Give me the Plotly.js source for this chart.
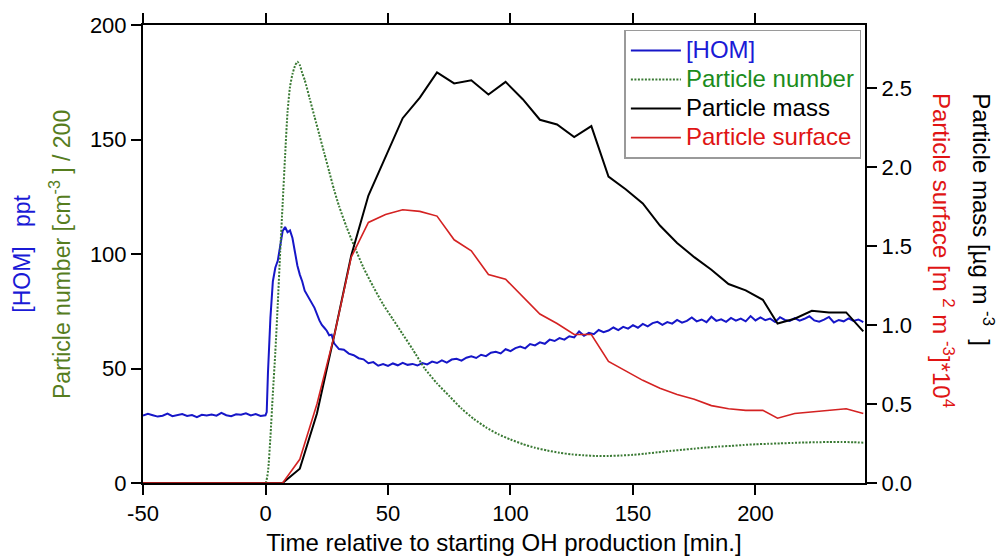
<!DOCTYPE html>
<html>
<head>
<meta charset="utf-8">
<script src="https://cdn.plot.ly/plotly-3.0.1.min.js"></script>
<style>html,body{margin:0;padding:0;background:#fff;}#chart{width:1005px;height:558px;}</style>
</head>
<body>
<div id="chart"></div>
<script>
// ---- data ----
const homTime = [-50,-48,-46,-44,-42,-40,-38,-36,-34,-32,-30,-28,-26,-24,-22,-20,-18,-16,-14,-12,-10,-8,-6,-4,-2,
  0,0.5,1,2,3,4,5,6,7,8,9,10,11,12,13,14,15,16,17,18,20,22,23,24,25,26,27,28,30,32,34,36,38,40,42,44,46,48,
  50,52,54,56,58,60,62,64,66,68,70,72,74,76,78,80,82,84,86,88,90,92,94,96,98,
  100,102,104,106,108,110,112,114,116,118,120,122,124,126,128,130,132,134,136,138,140,142,144,146,148,
  150,152,154,156,158,160,162,164,166,168,170,172,174,176,178,180,182,184,186,188,190,192,194,196,198,
  200,202,204,206,208,210,212,214,216,218,220,222,224,226,228,230,232,234,236,238,240,242,244];
const homPpt = [29.5,30.2,29.6,29.0,29.4,30.3,29.2,29.6,30.1,29.3,29.7,28.8,29.8,29.5,29.9,29.4,30.6,29.6,29.2,30.0,29.8,30.4,29.5,30.1,29.3,
  29.6,31,48,72,88,94,97,104,110,111.8,109.5,110.3,107,101,95,91,88,84,82,80,76.5,71,69,67.8,66.5,64.5,64.8,61,58.5,58.2,56.5,55.8,54.5,54,52.3,52.8,51.2,51.9,
  51.1,52.2,51.4,52.5,51.6,52.0,51.3,52.4,51.8,53.0,52.4,53.6,52.6,53.9,54.2,53.4,54.7,55.3,54.6,56.0,55.4,56.9,57.3,56.6,58.4,
  57.6,58.9,59.6,58.8,60.7,60.1,61.4,60.8,62.6,62.0,63.3,62.6,64.1,63.6,66.2,64.3,65.6,65.0,66.8,65.9,66.6,67.9,66.8,68.2,67.4,
  68.9,67.8,69.5,68.4,69.8,70.4,69.1,70.3,69.6,71.2,70.0,70.8,72.3,70.6,71.4,70.2,72.6,70.8,71.5,70.4,72.1,70.9,71.8,70.6,72.9,
  71.0,72.3,71.1,71.8,70.3,72.4,71.2,70.8,72.0,70.9,71.7,72.8,71.0,70.4,71.3,72.5,70.1,71.2,70.6,71.9,70.8,71.4,70.2];

const numTime = [-50,-2,0,1,2,3,4,5,6,7,8,9,10,11,12,13,14,15,16,18,20,22,24,26,28,30,33,36,40,44,48,52,56,60,65,70,75,80,85,90,95,
  100,105,110,115,120,125,130,135,140,145,150,155,160,165,170,175,180,185,190,195,200,205,210,215,220,225,230,235,240,244];
const numPer200 = [0,0,0,5,20,39,57,78,101,122,143,162,173,178.5,182,184,182.5,179,176,168,160,152,144,136,128,121,112,104,94,85.7,78,71.5,65,58.5,50,43.5,38,32.5,28,24.3,21.3,
  19,17,15.4,14.2,13.2,12.5,12.1,11.8,11.8,12,12.3,12.8,13.4,14,14.5,15,15.5,15.9,16.2,16.6,16.9,17.1,17.3,17.5,17.7,17.8,17.9,17.9,17.8,17.6];

const aeroTime = [-50,7,14,21,28,35,42,49,56,63,70,77,84,91,98,105,112,119,126,133,140,147,154,161,168,175,182,189,196,203,209,216,223,230,237,244];
const massUg = [0,0,0.09,0.44,0.93,1.44,1.82,2.07,2.31,2.44,2.60,2.53,2.55,2.46,2.54,2.43,2.30,2.27,2.19,2.26,1.94,1.86,1.77,1.63,1.52,1.43,1.35,1.26,1.22,1.16,1.01,1.04,1.09,1.08,1.08,0.96];
const surfaceE4 = [0,0,0.15,0.50,0.93,1.43,1.65,1.70,1.73,1.72,1.69,1.54,1.47,1.32,1.29,1.18,1.07,1.01,0.94,0.94,0.77,0.71,0.65,0.60,0.56,0.53,0.49,0.47,0.46,0.46,0.41,0.44,0.45,0.46,0.47,0.44];

const xTicks = [-50,0,50,100,150,200];
const xTickLabels = ['-50','0','50','100','150','200'];
const yLeftTicks = [0,50,100,150,200];
const yRightTicks = [0,0.5,1.0,1.5,2.0,2.5];
const yRightLabels = ['0.0','0.5','1.0','1.5','2.0','2.5'];

// ---- traces ----
const lg = (c, t) => '<span style="color:' + c + ';font-size:24px">' + t + '</span>';
const traces = [
  {x: homTime, y: homPpt, type:'scatter', mode:'lines', yaxis:'y',
   name: lg('#1a1ad6','[HOM]'), line:{color:'#1616c8', width:2}},
  {x: numTime, y: numPer200, type:'scatter', mode:'lines', yaxis:'y',
   name: lg('#1b8c1b','Particle number'), line:{color:'#3a7a34', width:2, dash:'2px,1.5px', shape:'spline', smoothing:0.6}},
  {x: aeroTime, y: massUg, type:'scatter', mode:'lines', yaxis:'y2',
   name: lg('#000000','Particle mass'), line:{color:'#000000', width:2}},
  {x: aeroTime, y: surfaceE4, type:'scatter', mode:'lines', yaxis:'y2',
   name: lg('#e01414','Particle surface'), line:{color:'#d42222', width:1.6}}
];

const axisCommon = {showgrid:false, zeroline:false, showline:true, linecolor:'#000', linewidth:2,
  ticks:'outside', ticklen:10, tickwidth:2, tickcolor:'#000'};

const layout = {
  width:1005, height:558,
  margin:{l:143, r:140, t:25, b:75, pad:0},
  paper_bgcolor:'#fff', plot_bgcolor:'#fff',
  font:{family:'"Liberation Sans", Arial, sans-serif', size:22, color:'#000'},
  showlegend:true,
  legend:{x:0.995, xanchor:'right', y:0.99, yanchor:'top', bgcolor:'#fff', bordercolor:'#9a9a9a', borderwidth:1.5,
          font:{size:20}, tracegroupgap:0, itemwidth:50},
  xaxis: Object.assign({}, axisCommon, {range:[-50,244.7], tickvals:xTicks, ticktext:xTickLabels, mirror:'ticks',
          title:{text:'Time relative to starting OH production [min.]', font:{size:24}, standoff:9}}),
  yaxis: Object.assign({}, axisCommon, {range:[0,200], tickvals:yLeftTicks, mirror:false}),
  yaxis2: Object.assign({}, axisCommon, {range:[0,2.9], tickvals:yRightTicks, ticktext:yRightLabels,
          overlaying:'y', side:'right'}),
  annotations:[
    {xref:'paper', yref:'paper', x:-0.168, y:0.5, xanchor:'center', yanchor:'middle', textangle:-90, showarrow:false,
     text:'[HOM]&nbsp;&nbsp;&nbsp;ppt', font:{size:23, color:'#1a1ad6'}},
    {xref:'paper', yref:'paper', x:-0.115, y:0.5, xanchor:'center', yanchor:'middle', textangle:-90, showarrow:false,
     text:'Particle number [cm<sup>-3</sup>&nbsp;] / 200', font:{size:23, color:'#567d1e'}},
    {xref:'paper', yref:'paper', x:1.163, y:0.855, xanchor:'center', yanchor:'top', textangle:90, showarrow:false,
     text:'Particle mass [µg m&nbsp;<sup>-3</sup>&nbsp;&nbsp;]', font:{size:24, color:'#000'}},
    {xref:'paper', yref:'paper', x:1.108, y:0.855, xanchor:'center', yanchor:'top', textangle:90, showarrow:false,
     text:'Particle surface [m&nbsp;<sup>2</sup>&nbsp;m&nbsp;<sup>-3</sup>]*10<sup>4</sup>', font:{size:24, color:'#e01414'}}
  ]
};

Plotly.newPlot('chart', traces, layout, {displayModeBar:false, staticPlot:true});
</script>
</body>
</html>
